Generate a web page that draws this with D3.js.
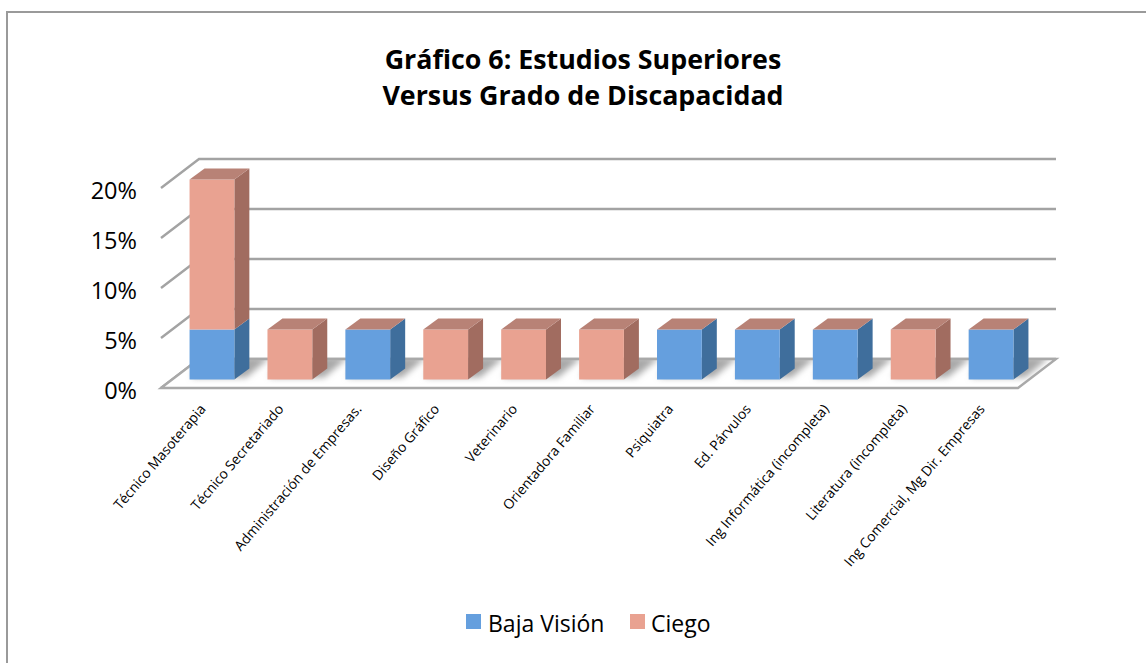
<!DOCTYPE html>
<html><head><meta charset="utf-8">
<script src="https://cdnjs.cloudflare.com/ajax/libs/d3/7.8.5/d3.min.js"></script>
<style>html,body{margin:0;padding:0;background:#fff;overflow:hidden}svg{display:block}</style>
</head><body><svg id="c" width="1146" height="663"></svg>
<script>
const categories=["Técnico Masoterapia","Técnico Secretariado","Administración de Empresas.","Diseño Gráfico","Veterinario","Orientadora Familiar","Psiquiatra","Ed. Párvulos","Ing Informática (incompleta)","Literatura (incompleta)","Ing Comercial, Mg Dir. Empresas"];
const bajaVision=[5,0,5,0,0,0,5,5,5,0,5];
const ciego=[15,5,0,5,5,5,0,0,0,5,0];
const seriesNames=["Baja Visión","Ciego"];
const yTicks=[0,5,10,15,20];
const titleLines=["Gráfico 6: Estudios Superiores","Versus Grado de Discapacidad"];

const svg=d3.select("#c");
const W=1146,H=663;
const x0=161,x1=1018,y0=388,y20=188;
const wallDx=38,wallDy=-29;
const x=d3.scaleBand().domain(categories).range([x0,x1]).paddingInner(0.425).paddingOuter(0.2125);
const y=d3.scaleLinear().domain([0,20]).range([y0,y20]);
const midDx=12,midDy=-8.5;
const barDx=15,barDy=-11;
const col={bv:{f:"#659FDE",s:"#3F6E9C",t:"#B88276"},ci:{f:"#E9A291",s:"#A16C60",t:"#B88276"}};

svg.append("path").attr("d",`M7,${H+5}V12H${W+5}`).attr("fill","none").attr("stroke","#9a9a9a").attr("stroke-width",2);

const defs=svg.append("defs");
const blur=defs.append("filter").attr("id","bl").attr("x","-30%").attr("y","-30%").attr("width","160%").attr("height","160%");
blur.append("feGaussianBlur").attr("stdDeviation",3);
const floorPath=`M${x0},${y0}L${x0+wallDx},${y0+wallDy}L${x1+wallDx},${y0+wallDy}L${x1},${y0}Z`;
defs.append("clipPath").attr("id","fl").append("path").attr("d",floorPath);

// title
svg.append("g").selectAll("text").data(titleLines).join("text")
 .attr("x",583).attr("y",(d,i)=>69+i*36).attr("text-anchor","middle")
 .attr("font-family","Open Sans").attr("font-weight",700).attr("font-size",26.8).attr("fill","#000").text(d=>d);

// walls grid
const g=svg.append("g");
g.selectAll("path.grid").data(yTicks).join("path").attr("class","grid")
 .attr("fill","none").attr("stroke","#A3A3A3").attr("stroke-width",2.4)
 .attr("d",d=>`M${x0},${y(d)}L${x0+wallDx},${y(d)+wallDy}L${x1+wallDx},${y(d)+wallDy}`);

// floor
g.append("path").attr("fill","#fff").attr("d",floorPath);
// floor shadows
const shadow=g.append("g").attr("clip-path","url(#fl)").append("g").attr("filter","url(#bl)");
shadow.selectAll("path").data(categories).join("path").attr("fill","#a8a8a8")
 .attr("d",d=>{const l=x(d)+midDx+2,r=l+x.bandwidth()+10,b=y0+midDy-2,t=y0+wallDy-2;
   return `M${l},${b}L${r},${b}L${r+24},${t}L${l+8},${t}Z`;});
g.append("path").attr("fill","none").attr("stroke","#A9A9A9").attr("stroke-width",2.4).attr("d",floorPath);

// bars
const stack=categories.map((c,i)=>{let parts=[];let a=0;
 if(bajaVision[i]>0){parts.push({c,k:"bv",a,b:a+bajaVision[i]});a+=bajaVision[i];}
 if(ciego[i]>0){parts.push({c,k:"ci",a,b:a+ciego[i]});a+=ciego[i];}
 return parts;}).flat();
const bars=svg.append("g").selectAll("g").data(stack).join("g");
const bx=d=>x(d.c)+midDx, w=x.bandwidth();
const yb=v=>y(v)+midDy;
bars.append("path").attr("fill",d=>col[d.k].s)
 .attr("d",d=>`M${bx(d)+w},${yb(d.a)}L${bx(d)+w+barDx},${yb(d.a)+barDy}L${bx(d)+w+barDx},${yb(d.b)+barDy}L${bx(d)+w},${yb(d.b)}Z`);
bars.append("rect").attr("x",bx).attr("y",d=>yb(d.b)).attr("width",w).attr("height",d=>yb(d.a)-yb(d.b)).attr("fill",d=>col[d.k].f);
bars.filter(d=>{const i=categories.indexOf(d.c);return d.b===bajaVision[i]+ciego[i];}).append("path").attr("fill",d=>col[d.k].t)
 .attr("d",d=>`M${bx(d)},${yb(d.b)}L${bx(d)+barDx},${yb(d.b)+barDy}L${bx(d)+w+barDx},${yb(d.b)+barDy}L${bx(d)+w},${yb(d.b)}Z`);

// y axis labels
svg.append("g").selectAll("text").data(yTicks).join("text")
 .attr("x",137).attr("y",d=>y(d)+10.7).attr("text-anchor","end")
 .attr("font-family","Open Sans").attr("font-size",23.5).attr("fill","#000").text(d=>d+"%");

// category labels
svg.append("g").selectAll("text").data(categories).join("text")
 .attr("transform",d=>`translate(${x(d)+x.bandwidth()/2+6.5},${409.5}) rotate(-49.5)`)
 .attr("text-anchor","end").attr("font-family","Open Sans").attr("font-size",13.8).attr("fill","#000").text(d=>d);

// legend
const lg=[{k:"bv",x:466,tx:488},{k:"ci",x:630,tx:651}];
const L=svg.append("g");
L.selectAll("rect").data(lg).join("rect").attr("x",d=>d.x).attr("y",614).attr("width",15).attr("height",15).attr("fill",d=>col[d.k].f);
L.selectAll("text").data(lg).join("text").attr("x",d=>d.tx).attr("y",632)
 .attr("font-family","Open Sans").attr("font-size",23).attr("fill","#000").text((d,i)=>seriesNames[i]);
</script></body></html>
